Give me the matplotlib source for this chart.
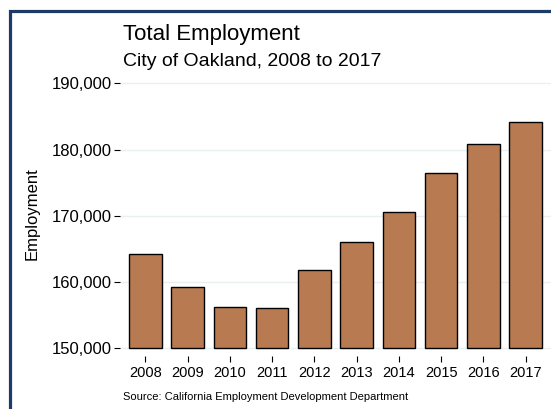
import matplotlib
matplotlib.use("Agg")
from matplotlib import pyplot as plt
from matplotlib.patches import Rectangle
from matplotlib.ticker import FuncFormatter

# data
years = ["2008", "2009", "2010", "2011", "2012",
         "2013", "2014", "2015", "2016", "2017"]
employment = [164300, 159300, 156200, 156100, 161800,
              166100, 170600, 176400, 180900, 184200]
y_ticks = [150000, 160000, 170000, 180000, 190000]

plt.rcParams['font.family'] = ['Liberation Sans', 'DejaVu Sans']

W, H = 551, 409
fig = plt.figure(figsize=(W / 100, H / 100), dpi=100)

# axes placed in pixel terms
left, right, top, bottom = 120, 551, 82, 356
ax = fig.add_axes([left / W, 1 - bottom / H, (right - left) / W, (bottom - top) / H])

base = 150000
x = list(range(len(years)))
ax.bar(x, [v - base for v in employment], bottom=base, width=0.77,
       color="#b87a50", edgecolor="black", linewidth=1.0, zorder=3)

ax.set_xlim(-0.6, 9.6)
ax.set_ylim(148850, 190200)
ax.set_xticks(x)
ax.set_xticklabels(years, fontsize=10.5)
ax.set_yticks(y_ticks)
ax.yaxis.set_major_formatter(FuncFormatter(lambda v, p: f"{int(v):,}"))
ax.tick_params(axis="y", labelsize=12, length=4, width=0.8, pad=2)
ax.tick_params(axis="x", length=4, width=0.8, pad=3, direction="out")
ax.grid(axis="y", color="#e8f0f1", linewidth=1.0, zorder=0)
for s in ax.spines.values():
    s.set_visible(False)
ax.set_ylabel("Employment", fontsize=12)
# label spans about x 27-39 px, centred at y=214 px
ax.yaxis.set_label_coords(-(left - 40) / (right - left), (bottom - 214) / (bottom - top))

fig.text(123 / W, 1 - 40 / H, "Total Employment", fontsize=16, va="baseline")
fig.text(123 / W, 1 - 66.5 / H, "City of Oakland, 2008 to 2017", fontsize=14, va="baseline")
fig.text(123 / W, 1 - 396.5 / H, "Source: California Employment Development Department",
         fontsize=8, va="center")

# dark frame, cropped at right and bottom
fig.patches.append(Rectangle((9.5 / W, -0.2), 1.5, 1.2 - 10.5 / H, transform=fig.transFigure,
                             fill=False, edgecolor="#1d3b66", linewidth=2.3, clip_on=False))

fig.savefig("out.png", dpi=100)
